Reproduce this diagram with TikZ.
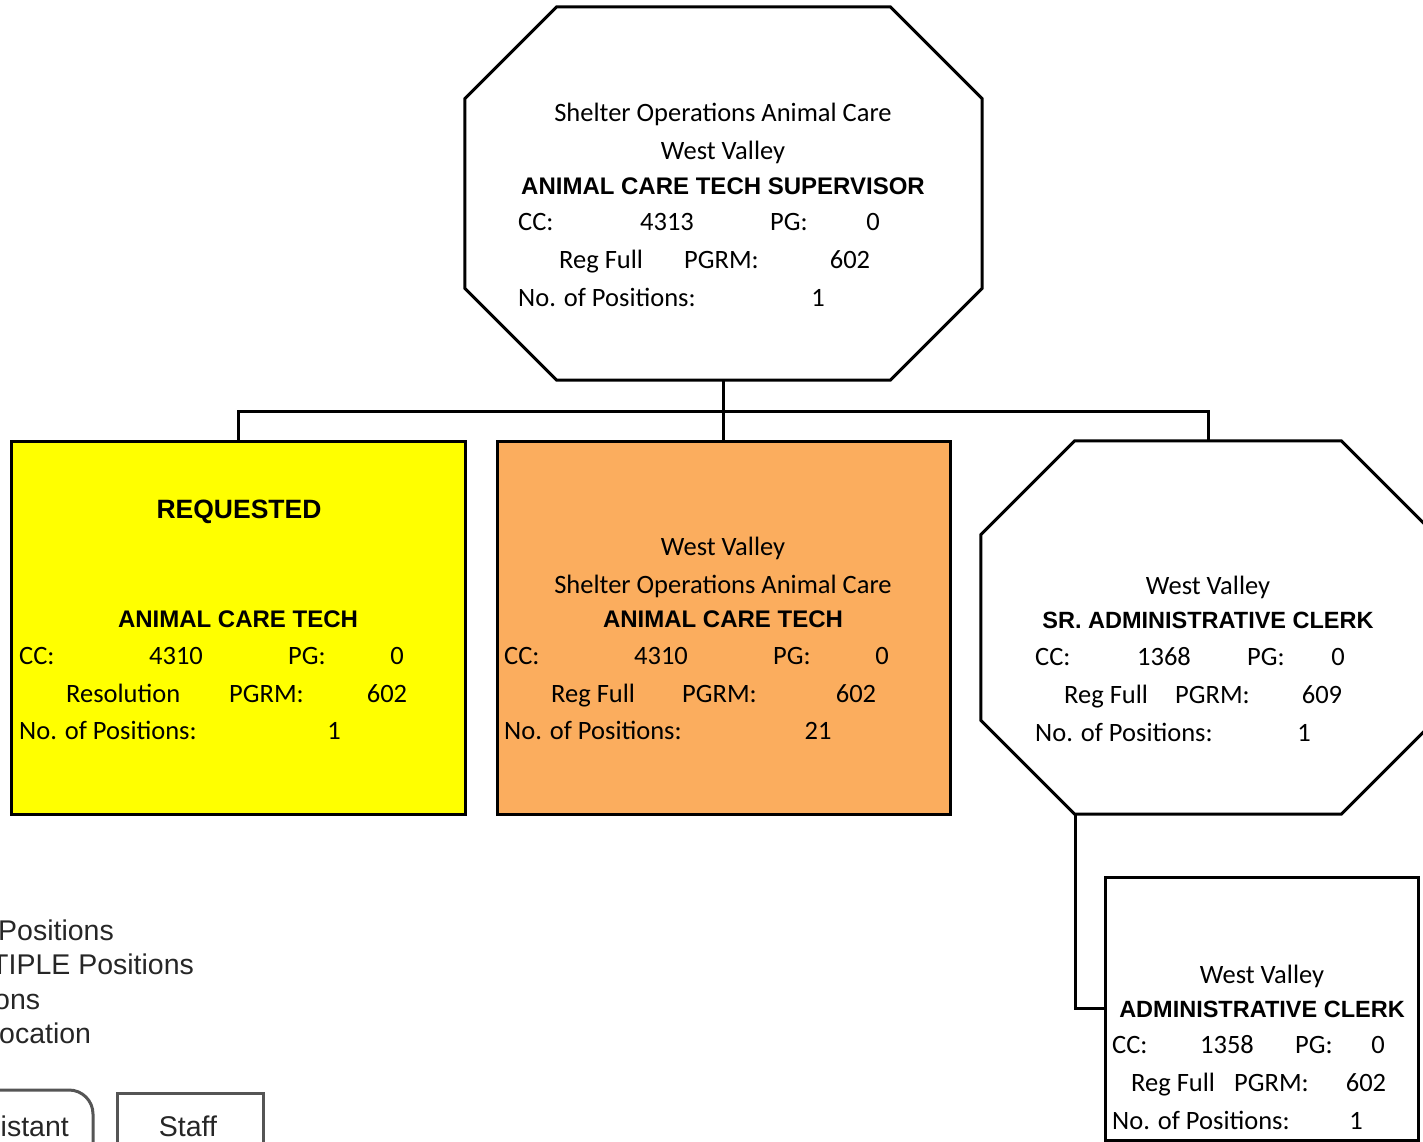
\documentclass[tikz,border=0pt]{standalone}
\usepackage{fontspec}
\setmainfont{Carlito}
\newfontfamily\arialfont{Liberation Sans}
\usetikzlibrary{calc}
\definecolor{reqYellow}{RGB}{255,255,0}
\definecolor{actOrange}{RGB}{251,173,94}
\definecolor{legGray}{RGB}{85,85,85}

% octagon frame around a (hidden) rectangle node: #1 node name, #2 cut
\newcommand{\octframe}[2]{%
  \draw[boxline] ($(#1.north west)+(#2,0)$) -- ($(#1.north east)+(-#2,0)$)
    -- ($(#1.north east)+(0,#2)$) -- ($(#1.south east)+(0,-#2)$)
    -- ($(#1.south east)+(-#2,0)$) -- ($(#1.south west)+(#2,0)$)
    -- ($(#1.south west)+(0,-#2)$) -- ($(#1.north west)+(0,#2)$) -- cycle;}

\tikzset{
  boxline/.style={draw=black, line width=3pt},
  posbox/.style={boxline, rectangle, inner sep=0pt, minimum height=373pt},
  hole/.style={rectangle, inner sep=0pt, minimum height=373pt},
  link/.style={black, line width=3pt},
  txt/.style={inner sep=0pt, anchor=base, font=\fontsize{26.5}{30}\selectfont},
  lft/.style={txt, anchor=base west},
  ttl/.style={inner sep=0pt, anchor=base, font=\arialfont\bfseries\fontsize{24}{28}\selectfont},
  leg/.style={inner sep=0pt, anchor=base west, font=\arialfont\fontsize{28.5}{32}\selectfont, text=black!85},
  legbox/.style={draw=legGray, line width=3pt, rectangle, inner sep=0pt},
}

\begin{document}
\begin{tikzpicture}[x=1pt,y=-1pt]
\useasboundingbox (0,0) rectangle (1423,1142);
\clip (0,0) rectangle (1423,1142);

% boxes
\node[hole, minimum width=517pt] (sup) at (723.5,193.5) {};
\octframe{sup}{92}
\node[posbox, fill=reqYellow, minimum width=454pt] (req) at (238,627.5) {};
\node[posbox, fill=actOrange, minimum width=453pt] (act) at (723.5,627.5) {};
\node[hole, minimum width=454pt] (src) at (1208,627.5) {};
\octframe{src}{94}
\node[boxline, rectangle, inner sep=0pt, minimum width=313pt, minimum height=263pt] (clk) at (1261.5,1008.5) {};

% connectors
\coordinate (bus) at (723,411);
\draw[link] (sup.south) -- (act.north);
\draw[link] (req.north) |- (bus) -| (src.north);
\draw[link] ([xshift=-133pt]src.south) |- (clk.west);

% supervisor
\node[txt] (sup-org) at (723,122) {Shelter Operations Animal Care};
\node[txt] (sup-loc) at (723,160) {West Valley};
\node[ttl] (sup-ttl) at (723,194) {ANIMAL CARE TECH SUPERVISOR};
\node[lft] (sup-cc) at (518,230) {CC:};
\node[txt] (sup-ccv) at (667,230) {4313};
\node[lft] (sup-pg) at (770,230) {PG:};
\node[txt] (sup-pgv) at (873,230) {0};
\node[lft] (sup-typ) at (559,268) {Reg Full};
\node[lft] (sup-pr) at (684,268) {PGRM:};
\node[txt] (sup-prv) at (850,268) {602};
\node[lft] (sup-no) at (518,306) {No. of Positions:};
\node[txt] (sup-nov) at (818,306) {1};

% requested tech
\node[ttl, font=\arialfont\bfseries\fontsize{26.5}{30}\selectfont] (req-st) at (239,518) {REQUESTED};
\node[ttl] (req-ttl) at (238,627) {ANIMAL CARE TECH};
\node[lft] (req-cc) at (19,664) {CC:};
\node[txt] (req-ccv) at (176,664) {4310};
\node[lft] (req-pg) at (288,664) {PG:};
\node[txt] (req-pgv) at (397,664) {0};
\node[lft] (req-typ) at (66,702) {Resolution};
\node[lft] (req-pr) at (229,702) {PGRM:};
\node[txt] (req-prv) at (387,702) {602};
\node[lft] (req-no) at (19,739) {No. of Positions:};
\node[txt] (req-nov) at (334,739) {1};

% animal care tech
\node[txt] (act-loc) at (723,555) {West Valley};
\node[txt] (act-org) at (723,593) {Shelter Operations Animal Care};
\node[ttl] (act-ttl) at (723,627) {ANIMAL CARE TECH};
\node[lft] (act-cc) at (504,664) {CC:};
\node[txt] (act-ccv) at (661,664) {4310};
\node[lft] (act-pg) at (773,664) {PG:};
\node[txt] (act-pgv) at (882,664) {0};
\node[lft] (act-typ) at (551,702) {Reg Full};
\node[lft] (act-pr) at (682,702) {PGRM:};
\node[txt] (act-prv) at (856,702) {602};
\node[lft] (act-no) at (504,739) {No. of Positions:};
\node[txt] (act-nov) at (818,739) {21};

% sr. admin clerk
\node[txt] (src-loc) at (1208,594) {West Valley};
\node[ttl, font=\arialfont\bfseries\fontsize{23.5}{28}\selectfont] (src-ttl) at (1208,628) {SR. ADMINISTRATIVE CLERK};
\node[lft] (src-cc) at (1035,665) {CC:};
\node[txt] (src-ccv) at (1164,665) {1368};
\node[lft] (src-pg) at (1247,665) {PG:};
\node[txt] (src-pgv) at (1338,665) {0};
\node[lft] (src-typ) at (1064,703) {Reg Full};
\node[lft] (src-pr) at (1175,703) {PGRM:};
\node[txt] (src-prv) at (1322,703) {609};
\node[lft] (src-no) at (1035,741) {No. of Positions:};
\node[txt] (src-nov) at (1304,741) {1};

% admin clerk
\node[txt] (clk-loc) at (1262,983) {West Valley};
\node[ttl, font=\arialfont\bfseries\fontsize{23.5}{28}\selectfont] (clk-ttl) at (1262,1017) {ADMINISTRATIVE CLERK};
\node[lft] (clk-cc) at (1112,1053) {CC:};
\node[txt] (clk-ccv) at (1227,1053) {1358};
\node[lft] (clk-pg) at (1295,1053) {PG:};
\node[txt] (clk-pgv) at (1378,1053) {0};
\node[lft] (clk-typ) at (1131,1091) {Reg Full};
\node[lft] (clk-pr) at (1234,1091) {PGRM:};
\node[txt] (clk-prv) at (1366,1091) {602};
\node[lft] (clk-no) at (1112,1129) {No. of Positions:};
\node[txt] (clk-nov) at (1356,1129) {1};

% legend (cut off at the page edge)
\node[leg] (leg-a) at (-2,940) {Positions};
\node[leg] (leg-b) at (-9,974) {TIPLE Positions};
\node[leg] (leg-c) at (-6,1009) {ons};
\node[leg] (leg-d) at (-1,1043) {ocation};
\node[legbox, rounded corners=24pt, minimum width=200pt, minimum height=80pt] (leg-ast) at (-7,1130) {};
\node[leg, anchor=base east] (leg-astt) at (69,1136) {istant};
\node[legbox, minimum width=146pt, minimum height=64pt] (leg-stf) at (190,1125) {};
\node[leg, anchor=base] (leg-stft) at (188,1136) {Staff};
\end{tikzpicture}
\end{document}
